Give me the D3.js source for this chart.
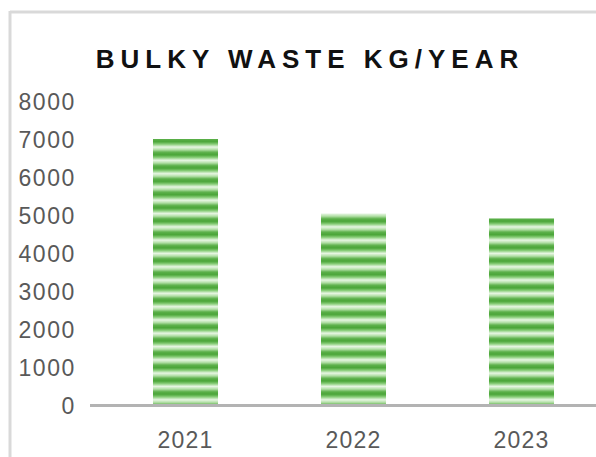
<!DOCTYPE html>
<html>
<head>
<meta charset="utf-8">
<script src="https://cdn.jsdelivr.net/npm/d3@7"></script>
<style>
  html, body { margin: 0; padding: 0; background: #fff; overflow: hidden; }
  svg { display: block; }
</style>
</head>
<body>
<svg id="chart" width="596" height="457"></svg>
<script>
const title = "BULKY WASTE KG/YEAR";
const categories = ["2021", "2022", "2023"];
const values = [7000, 5040, 4910];
const yTicks = [0, 1000, 2000, 3000, 4000, 5000, 6000, 7000, 8000];

const svg = d3.select("#chart");

// frame (cropped chart area border)
svg.append("line").attr("x1", 10).attr("x2", 596).attr("y1", 12).attr("y2", 12)
  .attr("stroke", "#d9d9d9").attr("stroke-width", 3);
svg.append("line").attr("x1", 10).attr("x2", 10).attr("y1", 11).attr("y2", 457)
  .attr("stroke", "#d9d9d9").attr("stroke-width", 3);

// stripe pattern
const defs = svg.append("defs");
const grad = defs.append("linearGradient").attr("id", "stripeGrad")
  .attr("x1", 0).attr("x2", 0).attr("y1", 0).attr("y2", 1);
[[0, "#5cb04a"], [0.2, "#4aa538"], [0.4, "#8ccf7c"], [0.6, "#e8f6e4"], [0.8, "#b4e0a8"], [1, "#5cb04a"]]
  .forEach(([o, c]) => grad.append("stop").attr("offset", o).attr("stop-color", c));
const pat = defs.append("pattern").attr("id", "stripes")
  .attr("patternUnits", "userSpaceOnUse").attr("width", 20).attr("height", 13.3)
  .attr("y", 139);
pat.append("rect").attr("width", 20).attr("height", 13.3).attr("fill", "url(#stripeGrad)");

const y = d3.scaleLinear().domain([0, 8000]).range([405, 101]);
const x = d3.scaleBand().domain(categories).range([101.5, 605.5])
  .paddingInner(0.613).paddingOuter(0.3065);

// title
svg.append("text").attr("x", 310).attr("y", 68).attr("text-anchor", "middle")
  .attr("font-family", "'Liberation Sans', Arial, sans-serif").attr("font-weight", "bold")
  .attr("font-size", 26).attr("letter-spacing", 6).attr("fill", "#111")
  .text(title);

// y axis labels
const yAxis = d3.axisLeft(y).tickValues(yTicks).tickFormat(d3.format("d")).tickSize(0).tickPadding(0);
const yg = svg.append("g").attr("transform", "translate(76,0)").call(yAxis);
yg.select(".domain").remove();
yg.selectAll("text").attr("font-family", "'Liberation Sans', Arial, sans-serif")
  .attr("font-size", 23).attr("letter-spacing", 1.6).attr("fill", "#595959").attr("dy", "0.36em");

// bars
svg.append("g").selectAll("rect").data(values).join("rect")
  .attr("x", (d, i) => x(categories[i]))
  .attr("width", x.bandwidth())
  .attr("y", d => y(d))
  .attr("height", d => y(0) - y(d))
  .attr("fill", "url(#stripes)");

// x axis
const xAxis = d3.axisBottom(x).tickSize(0).tickPadding(0);
const xg = svg.append("g").attr("transform", "translate(0,405)").call(xAxis);
xg.select(".domain").remove();
svg.append("line").attr("x1", 90).attr("x2", 596).attr("y1", y(0) + 0.5).attr("y2", y(0) + 0.5)
  .attr("stroke", "#b3b3b3").attr("stroke-width", 3);
xg.selectAll("text").attr("font-family", "'Liberation Sans', Arial, sans-serif")
  .attr("font-size", 23).attr("letter-spacing", 1.2).attr("fill", "#595959")
  .attr("y", 43).attr("dy", "0");
</script>
</body>
</html>
